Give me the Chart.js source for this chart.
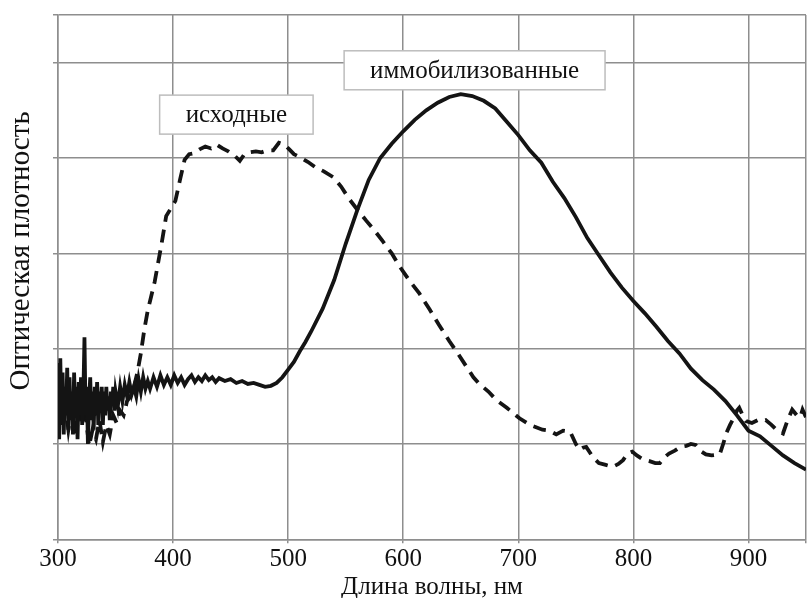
<!DOCTYPE html>
<html>
<head>
<meta charset="utf-8">
<script src="https://cdn.jsdelivr.net/npm/chart.js@4.4.1/dist/chart.umd.min.js"></script>
<style>
  html, body { margin: 0; padding: 0; background: #fff; }
</style>
</head>
<body>
<canvas id="spectraChart" width="807" height="598"></canvas>
<script>
// wavelength, nm / optical density (arbitrary units)
const immobilizedNm = [
    300, 301, 302, 303, 304, 305, 306, 307, 308, 309, 310, 311, 312, 313, 314, 315, 316, 317, 318, 319,
    320, 321, 322, 323, 324, 325, 326, 327, 328, 329, 330, 331, 332, 333, 334, 335, 336, 337, 338, 339,
    340, 341, 342, 343, 344, 345, 346, 347, 348, 349, 350, 352, 354, 356, 358, 360, 362, 364, 366, 368,
    370, 372, 374, 376, 378, 380, 383, 386, 389, 392, 395, 398, 401, 404, 407, 410, 413, 416, 419, 422,
    425, 428, 431, 434, 437, 440, 445, 450, 455, 460, 465, 470, 475, 480, 485, 490, 495, 500, 505, 510,
    515, 520, 530, 540, 550, 560, 570, 580, 590, 600, 610, 620, 630, 640, 650, 660, 670, 680, 690, 700,
    710, 720, 730, 740, 750, 760, 770, 780, 790, 800, 810, 820, 830, 840, 850, 860, 870, 880, 890, 900,
    910, 920, 930, 940, 950
];
const immobilizedValues = [
    1.85, 1.05, 1.9, 1.2, 1.75, 1.1, 1.6, 1.3, 1.8, 1.15, 1.7, 1.25, 1.55, 1.1, 1.75, 1.3, 1.6, 1.05, 1.65, 1.35,
    1.7, 1.2, 1.5, 2.12, 1.3, 1.6, 1.0, 1.45, 1.7, 1.25, 1.55, 1.15, 1.6, 1.3, 1.65, 1.2, 1.55, 1.35, 1.6, 1.2,
    1.55, 1.3, 1.6, 1.35, 1.5, 1.25, 1.55, 1.4, 1.6, 1.35, 1.55, 1.4, 1.6, 1.45, 1.62, 1.5, 1.65, 1.52, 1.6, 1.5,
    1.68, 1.55, 1.7, 1.58, 1.66, 1.58, 1.7, 1.6, 1.72, 1.62, 1.7, 1.62, 1.72, 1.64, 1.7, 1.62, 1.68, 1.72, 1.65, 1.7,
    1.66, 1.72, 1.67, 1.7, 1.65, 1.69, 1.66, 1.68, 1.64, 1.66, 1.63, 1.64, 1.62, 1.6, 1.61, 1.64, 1.7, 1.78, 1.86, 1.97,
    2.07, 2.18, 2.42, 2.72, 3.1, 3.45, 3.77, 4.0, 4.15, 4.28, 4.4, 4.5, 4.58, 4.64, 4.67, 4.65, 4.6, 4.52, 4.38, 4.24,
    4.08, 3.95, 3.75, 3.58, 3.38, 3.16, 2.98, 2.8, 2.64, 2.5, 2.37, 2.23, 2.08, 1.95, 1.79, 1.67, 1.57, 1.45, 1.3, 1.14,
    1.08, 0.98, 0.88, 0.8, 0.73
];

const initialNm = [
    300, 303, 306, 309, 312, 315, 318, 321, 324, 327, 330, 333, 336, 339, 342, 345, 348, 351, 354, 357,
    360, 363, 366, 369, 372, 375, 378, 381, 384, 387, 390, 394, 398, 402, 406, 410, 414, 418, 423, 428,
    433, 438, 443, 448, 453, 458, 462, 467, 472, 477, 482, 487, 492, 497, 501, 505, 510, 517, 524, 531,
    539, 546, 553, 560, 568, 575, 582, 590, 597, 605, 614, 623, 631, 640, 648, 655, 661, 666, 674, 681,
    690, 701, 710, 721, 727, 733, 739, 745, 750, 753, 756, 759, 765, 770, 776, 782, 787, 791, 795, 799,
    803, 808, 814, 819, 823, 827, 831, 836, 841, 846, 850, 854, 858, 863, 868, 875, 878, 881, 884, 887,
    890, 892, 895, 898, 903, 908, 912, 915, 920, 925, 930, 934, 938, 942, 945, 947, 950
];
const initialValues = [
    1.4, 1.2, 1.45, 1.15, 1.4, 1.1, 1.35, 1.2, 1.3, 0.98, 1.15, 1.05, 1.25, 1.02, 1.2, 1.1, 1.3, 1.22, 1.35, 1.3,
    1.45, 1.5, 1.6, 1.75, 1.95, 2.2, 2.4, 2.55, 2.7, 2.9, 3.1, 3.39, 3.47, 3.55, 3.77, 3.98, 4.04, 4.05, 4.09, 4.12,
    4.1, 4.14, 4.1, 4.07, 4.03, 3.97, 4.04, 4.06, 4.07, 4.06, 4.08, 4.08, 4.16, 4.14, 4.09, 4.04, 4.01, 3.96, 3.9, 3.86,
    3.8, 3.7, 3.57, 3.46, 3.34, 3.24, 3.13, 3.0, 2.86, 2.72, 2.58, 2.41, 2.25, 2.08, 1.94, 1.81, 1.7, 1.63, 1.55, 1.46,
    1.38, 1.27, 1.2, 1.15, 1.14, 1.1, 1.14, 1.13, 1.0, 0.94, 0.96, 0.97, 0.86, 0.8, 0.78, 0.76, 0.79, 0.83, 0.9, 0.92,
    0.88, 0.84, 0.82, 0.8, 0.8, 0.86, 0.9, 0.93, 0.97, 0.98, 1.0, 0.99, 0.93, 0.89, 0.88, 0.89, 1.0, 1.12, 1.2, 1.27,
    1.35, 1.38, 1.3, 1.24, 1.22, 1.25, 1.24, 1.25, 1.2, 1.14, 1.11, 1.25, 1.36, 1.3, 1.28, 1.36, 1.28
];

const xTickValues = [300, 400, 500, 600, 700, 800, 900];

// curve labels (text, position in data units)
const labelTexts = ['исходные', 'иммобилизованные'];
const labelNm = [455, 662];
const labelValues = [4.455, 4.92];

const yTitle = 'Оптическая плотность';
const xTitle = 'Длина волны, нм';

const serif = '"Liberation Serif", "Times New Roman", serif';
const gridColor = '#8e8e8e';

const toPoints = (xs, ys) => xs.map((x, i) => ({ x, y: ys[i] }));

const labelsPlugin = {
    id: 'curveLabels',
    afterDraw(chart) {
        const { ctx, scales, chartArea } = chart;
        ctx.save();
        ctx.font = '25px ' + serif;
        ctx.textAlign = 'center';
        ctx.textBaseline = 'middle';
        labelTexts.forEach((text, i) => {
            const cx = scales.x.getPixelForValue(labelNm[i]);
            const cy = scales.y.getPixelForValue(labelValues[i]);
            const w = ctx.measureText(text).width + 52;
            const h = 39;
            ctx.fillStyle = '#fff';
            ctx.fillRect(cx - w / 2, cy - h / 2, w, h);
            ctx.strokeStyle = '#bdbdbd';
            ctx.lineWidth = 1.5;
            ctx.strokeRect(cx - w / 2, cy - h / 2, w, h);
            ctx.fillStyle = '#111';
            ctx.fillText(text, cx, cy + 1);
        });

        // y axis title, sits a bit above the middle of the plot
        ctx.translate(21, chartArea.top + (chartArea.bottom - chartArea.top) * 0.45);
        ctx.rotate(-Math.PI / 2);
        ctx.font = '29px ' + serif;
        ctx.fillText(yTitle, 0, 0);
        ctx.restore();
    }
};

new Chart(document.getElementById('spectraChart'), {
    type: 'line',
    data: {
        datasets: [
            {
                label: 'иммобилизованные',
                data: toPoints(immobilizedNm, immobilizedValues),
                borderColor: '#141414',
                borderWidth: 3.8,
                pointRadius: 0,
                tension: 0
            },
            {
                label: 'исходные',
                data: toPoints(initialNm, initialValues),
                borderColor: '#141414',
                borderWidth: 3.8,
                borderDash: [13, 8],
                pointRadius: 0,
                tension: 0
            }
        ]
    },
    options: {
        responsive: false,
        animation: false,
        layout: { padding: { top: 15, right: 1, left: 0, bottom: 0 } },
        plugins: {
            legend: { display: false },
            tooltip: { enabled: false }
        },
        scales: {
            x: {
                type: 'linear',
                min: 300,
                max: 950,
                afterFit: (scale) => { scale.height = 58.7; },
                afterBuildTicks: (scale) => {
                    scale.ticks = xTickValues.concat([950]).map((v) => ({ value: v }));
                },
                ticks: {
                    font: { family: serif, size: 25 },
                    color: '#111',
                    padding: 1,
                    maxRotation: 0,
                    autoSkip: false,
                    callback: (v) => (xTickValues.includes(v) ? String(v) : '')
                },
                grid: { color: gridColor, lineWidth: 1.5, tickLength: 4 },
                border: { color: gridColor, width: 1.5 },
                title: {
                    display: true,
                    text: xTitle,
                    font: { family: serif, size: 25 },
                    color: '#111',
                    padding: { top: 0, bottom: -4 }
                }
            },
            y: {
                min: 0,
                max: 5.5,
                afterFit: (scale) => { scale.width = 58; },
                ticks: { display: false, stepSize: 1 },
                grid: { color: gridColor, lineWidth: 1.5, tickLength: 5 },
                border: { color: gridColor, width: 1.5 }
            }
        }
    },
    plugins: [labelsPlugin]
});
</script>
</body>
</html>
